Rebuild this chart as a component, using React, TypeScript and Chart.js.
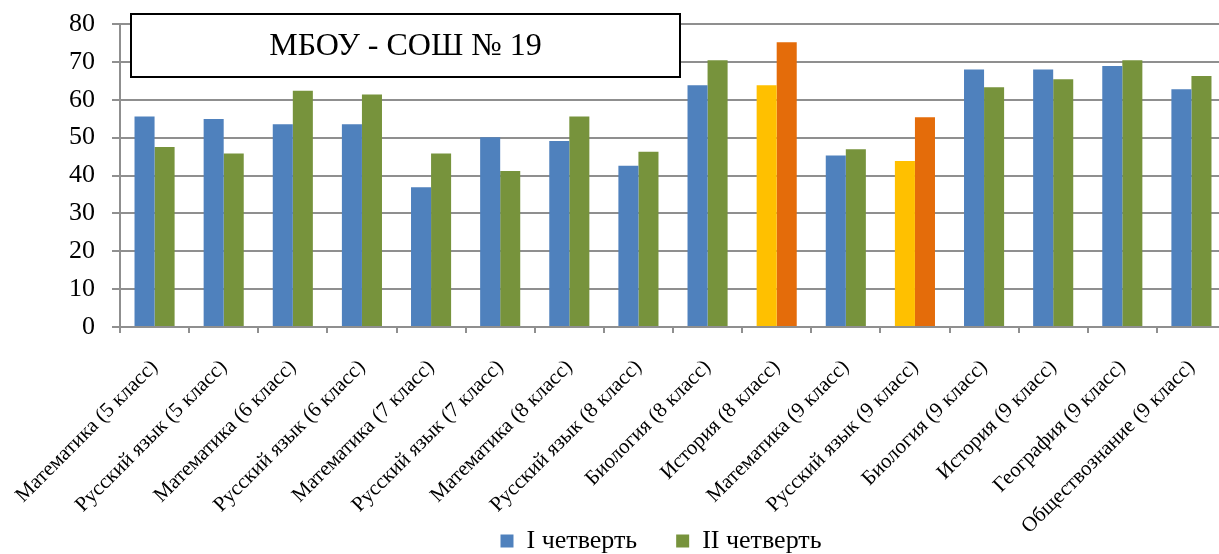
import React, { useEffect, useRef } from "react";
import { Chart, registerables } from "chart.js";

Chart.register(...registerables);

const categories = [
  "Математика (5 класс)",
  "Русский язык (5 класс)",
  "Математика (6 класс)",
  "Русский язык (6 класс)",
  "Математика (7 класс)",
  "Русский язык (7 класс)",
  "Математика (8 класс)",
  "Русский язык (8 класс)",
  "Биология (8 класс)",
  "История (8 класс)",
  "Математика (9 класс)",
  "Русский язык (9 класс)",
  "Биология (9 класс)",
  "История (9 класс)",
  "География (9 класс)",
  "Обществознание (9 класс)",
];

const quarter1 = [55.6, 54.9, 53.5, 53.5, 36.9, 50.1, 49.1, 42.6, 63.8, 63.8, 45.3, 43.8, 68.0, 68.0, 68.9, 62.8];
const quarter2 = [47.5, 45.8, 62.4, 61.4, 45.8, 41.2, 55.6, 46.3, 70.4, 75.2, 46.9, 55.4, 63.3, 65.4, 70.4, 66.3];

const seriesNames = ["I четверть", "II четверть"];
const highlighted = [9, 11];
const titleText = "МБОУ - СОШ № 19";

const FONT = "'Liberation Serif', 'Times New Roman', serif";
const BLUE = "#4F81BD";
const GREEN = "#77933C";
const YELLOW = "#FFC000";
const ORANGE = "#E46C0A";
const GRID = "#8f8f8f";

Chart.defaults.font.family = FONT;
Chart.defaults.color = "#000";

const layoutFixPlugin = {
  id: "layoutFix",
  afterLayout(chart: any) {
    const x = chart.scales.x;
    if (x) x.bottom = chart.height;
    const lg = chart.legend;
    if (lg) {
      lg.left -= 12;
      lg.right -= 12;
    }
  },
};

const titleBoxPlugin = {
  id: "titleBox",
  afterDraw(chart: any) {
    const ctx = chart.ctx;
    ctx.save();
    const x = 131, y = 14, w = 549, h = 63;
    ctx.fillStyle = "#ffffff";
    ctx.fillRect(x, y, w, h);
    ctx.lineWidth = 2;
    ctx.strokeStyle = "#000000";
    ctx.strokeRect(x, y, w, h);
    ctx.fillStyle = "#000000";
    ctx.font = `32px ${FONT}`;
    ctx.textAlign = "center";
    ctx.textBaseline = "alphabetic";
    ctx.fillText(titleText, 405.5, 55);
    ctx.restore();
  },
};

export default function App() {
  const ref = useRef<HTMLCanvasElement>(null);

  useEffect(() => {
    if (!ref.current) return;
    const chart = new Chart(ref.current, {
      type: "bar",
      data: {
        labels: categories,
        datasets: [
          {
            label: seriesNames[0],
            data: quarter1,
            backgroundColor: (c: any) =>
              c.dataIndex !== undefined && highlighted.includes(c.dataIndex) ? YELLOW : BLUE,
            borderWidth: 0,
            categoryPercentage: 0.58,
            barPercentage: 1,
          },
          {
            label: seriesNames[1],
            data: quarter2,
            backgroundColor: (c: any) =>
              c.dataIndex !== undefined && highlighted.includes(c.dataIndex) ? ORANGE : GREEN,
            borderWidth: 0,
            categoryPercentage: 0.58,
            barPercentage: 1,
          },
        ],
      },
      options: {
        responsive: false,
        animation: false,
        layout: { padding: { top: 24, right: 0, bottom: -10, left: 0 } },
        plugins: {
          title: { display: false },
          tooltip: { enabled: false },
          legend: {
            position: "bottom",
            fullSize: false,
            labels: {
              boxWidth: 13,
              boxHeight: 13,
              padding: 39,
              color: "#000",
              font: { family: FONT, size: 26 },
              generateLabels: (ch: any) =>
                ch.data.datasets.map((d: any, i: number) => ({
                  text: d.label,
                  fillStyle: i === 0 ? BLUE : GREEN,
                  strokeStyle: i === 0 ? BLUE : GREEN,
                  lineWidth: 0,
                  hidden: false,
                  datasetIndex: i,
                })),
            },
          },
        },
        scales: {
          x: {
            offset: true,
            grid: {
              display: true,
              drawOnChartArea: false,
              drawTicks: true,
              tickLength: 6,
              color: GRID,
              lineWidth: 2,
              offset: true,
            },
            border: { display: true, color: GRID, width: 2 },
            ticks: {
              color: "#000",
              font: { family: FONT, size: 21 },
              maxRotation: 45,
              minRotation: 45,
              autoSkip: false,
              padding: 22,
            },
            afterFit: (s: any) => {
              s.height = 162;
              s.paddingLeft = 0;
              s.paddingRight = 0;
            },
          },
          y: {
            min: 0,
            max: 80,
            ticks: {
              stepSize: 10,
              color: "#000",
              font: { family: FONT, size: 26 },
              padding: 17,
            },
            grid: {
              color: GRID,
              lineWidth: 2,
              drawTicks: true,
              tickLength: 8,
            },
            border: { display: true, color: GRID, width: 2 },
            afterFit: (s: any) => {
              s.width = 120;
              s.paddingTop = 0;
              s.paddingBottom = 0;
            },
          },
        },
      },
      plugins: [layoutFixPlugin, titleBoxPlugin],
    });
    return () => chart.destroy();
  }, []);

  return (
    <div
      style={{
        position: "absolute",
        left: 0,
        top: 0,
        width: 1219,
        height: 554,
        overflow: "hidden",
        background: "#fff",
      }}
    >
      <canvas ref={ref} width={1226} height={554} style={{ display: "block" }} />
    </div>
  );
}
